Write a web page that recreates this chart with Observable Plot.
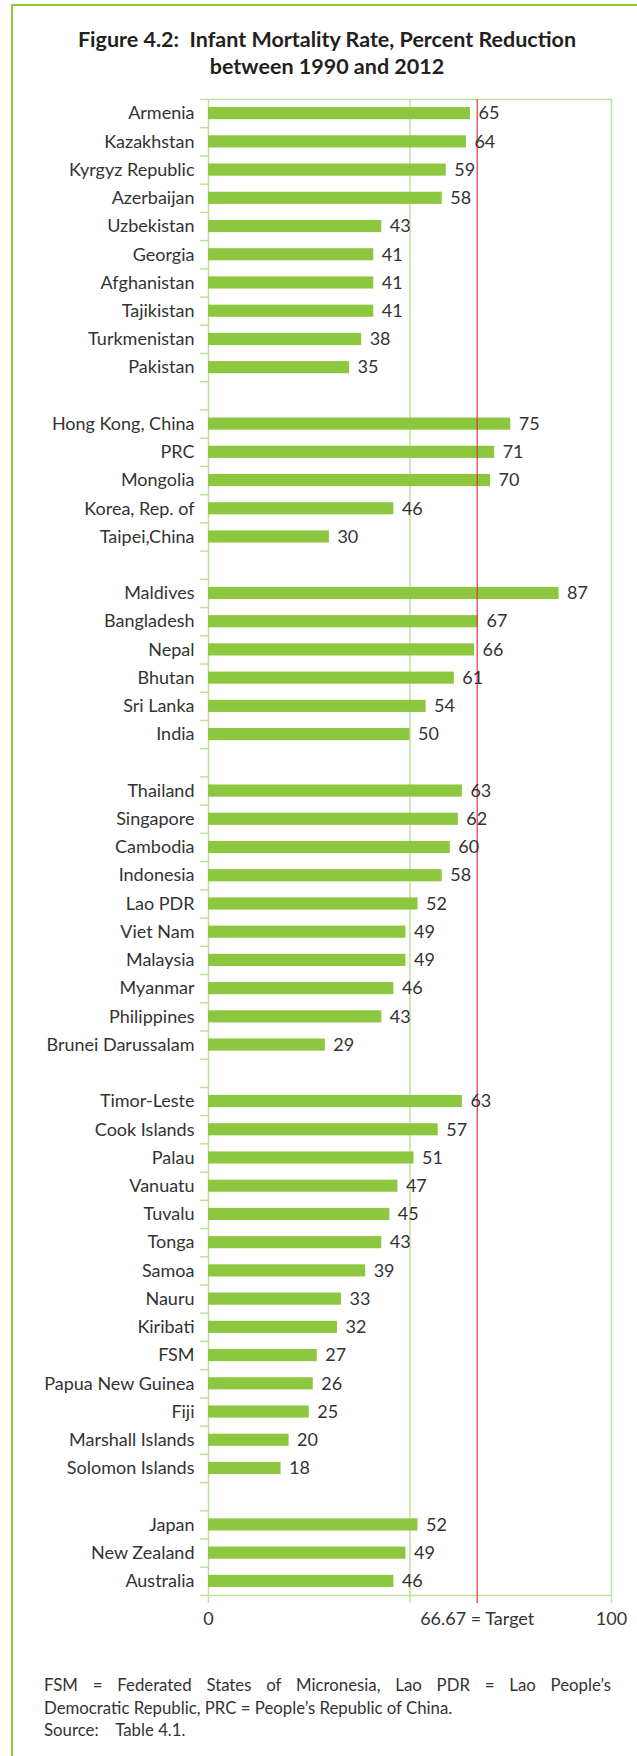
<!DOCTYPE html>
<html>
<head>
<meta charset="utf-8">
<script src="https://cdn.jsdelivr.net/npm/d3@7"></script>
<script src="https://cdn.jsdelivr.net/npm/@observablehq/plot@0.6"></script>
<style>
  html, body { margin: 0; padding: 0; background: #fff; }
  #page { position: relative; width: 637px; height: 1756px; overflow: hidden; font-family: Lato, "Open Sans", sans-serif; color: #333; }
  #border { position: absolute; left: 11px; top: 4px; right: -4px; bottom: -4px; border-left: 2px solid #8DC63F; border-top: 2px solid #8DC63F; }
  #title { position: absolute; left: 0; width: 654px; top: 26px; text-align: center; font-family: Lato, sans-serif; font-weight: bold; font-size: 21.5px; line-height: 27px; color: #231F20; }
  #chart { position: absolute; left: 0; top: 90px; }
  #footer { position: absolute; left: 44px; width: 567px; top: 1674px; font-size: 16.8px; line-height: 22.5px; color: #333; }
  #footer .j { text-align: justify; text-align-last: justify; }
</style>
</head>
<body>
<div id="page">
  <div id="border"></div>
  <div id="title">Figure 4.2:&nbsp; Infant Mortality Rate, Percent Reduction<br>between 1990 and 2012</div>
  <div id="chart"></div>
  <div id="footer">
    <div class="j">FSM = Federated States of Micronesia, Lao PDR = Lao People’s</div>
    <div>Democratic Republic, PRC = People’s Republic of China.</div>
    <div>Source:&nbsp;&nbsp;&nbsp; Table 4.1.</div>
  </div>
</div>
<script>
// ---- data ----
const centralWestCountries = ["Armenia", "Kazakhstan", "Kyrgyz Republic", "Azerbaijan", "Uzbekistan", "Georgia", "Afghanistan", "Tajikistan", "Turkmenistan", "Pakistan"];
const centralWestValues = [65, 64, 59, 58, 43, 41, 41, 41, 38, 35];
const eastCountries = ["Hong Kong, China", "PRC", "Mongolia", "Korea, Rep. of", "Taipei,China"];
const eastValues = [75, 71, 70, 46, 30];
const southCountries = ["Maldives", "Bangladesh", "Nepal", "Bhutan", "Sri Lanka", "India"];
const southValues = [87, 67, 66, 61, 54, 50];
const southeastCountries = ["Thailand", "Singapore", "Cambodia", "Indonesia", "Lao PDR", "Viet Nam", "Malaysia", "Myanmar", "Philippines", "Brunei Darussalam"];
const southeastValues = [63, 62, 60, 58, 52, 49, 49, 46, 43, 29];
const pacificCountries = ["Timor-Leste", "Cook Islands", "Palau", "Vanuatu", "Tuvalu", "Tonga", "Samoa", "Nauru", "Kiribati", "FSM", "Papua New Guinea", "Fiji", "Marshall Islands", "Solomon Islands"];
const pacificValues = [63, 57, 51, 47, 45, 43, 39, 33, 32, 27, 26, 25, 20, 18];
const developedCountries = ["Japan", "New Zealand", "Australia"];
const developedValues = [52, 49, 46];
const target = 66.67;
const xTickValues = [0, 66.67, 100];
const xTickLabels = ["0", "66.67 = Target", "100"];
const gridValues = [50];

// ---- build table ----
const groups = [
  [centralWestCountries, centralWestValues],
  [eastCountries, eastValues],
  [southCountries, southValues],
  [southeastCountries, southeastValues],
  [pacificCountries, pacificValues],
  [developedCountries, developedValues]
];
const domain = [];
const data = [];
groups.forEach(([cs, vs], gi) => {
  if (gi > 0) domain.push("__gap" + gi);
  cs.forEach((c, i) => { domain.push(c); data.push({country: c, value: vs[i]}); });
});

const GREEN = "#8DC63F";
const LIGHT = "#BFE09A";
const RED = "#E0333C";
const innerH = 1496;
const step = innerH / domain.length;
const label = new Map(xTickValues.map((v, i) => [v, xTickLabels[i]]));

const chart = Plot.plot({
  width: 637,
  height: 1550,
  marginTop: 9,
  marginBottom: 45,
  marginLeft: 208,
  marginRight: 26,
  style: {fontFamily: "Lato, 'Open Sans', sans-serif", fontSize: "18px", color: "#333", background: "transparent"},
  x: {domain: [0, 100], axis: null},
  y: {domain, paddingInner: 0.57, paddingOuter: 0.285, round: false, axis: null},
  marks: [
    Plot.ruleX(gridValues, {stroke: LIGHT, strokeWidth: 1.5}),
    Plot.frame({stroke: LIGHT, strokeWidth: 1.5}),
    // y-axis ticks at band boundaries
    Plot.ruleY(domain, {y: d => d, x1: -2, x2: 0, dy: -step / 2, stroke: LIGHT, strokeWidth: 1.5}),
    Plot.ruleY(domain.slice(-1), {y: d => d, x1: -2, x2: 0, dy: step / 2, stroke: LIGHT, strokeWidth: 1.5}),
    Plot.axisY({label: null, tickSize: 0, tickPadding: 14, tickFormat: d => d.startsWith("__gap") ? "" : d, fill: "#333"}),
    // x-axis ticks below the frame
    Plot.axisX({label: null, ticks: [0, 50, 100], tickSize: 8, tickFormat: () => "", stroke: LIGHT, strokeWidth: 1.5}),
    Plot.axisX({label: null, ticks: [target], tickSize: 8, tickFormat: () => "", stroke: RED, strokeWidth: 1.2}),
    Plot.axisX({label: null, ticks: xTickValues, tickSize: 0, tickPadding: 17, tickFormat: d => label.get(d), fill: "#333"}),
    Plot.barX(data, {x: "value", y: "country", fill: GREEN}),
    Plot.ruleX([target], {stroke: RED, strokeWidth: 1.2}),
    Plot.text(data, {x: "value", y: "country", text: d => String(d.value), dx: 8, textAnchor: "start", fill: "#333"})
  ]
});
document.getElementById("chart").appendChild(chart);
</script>
</body>
</html>
